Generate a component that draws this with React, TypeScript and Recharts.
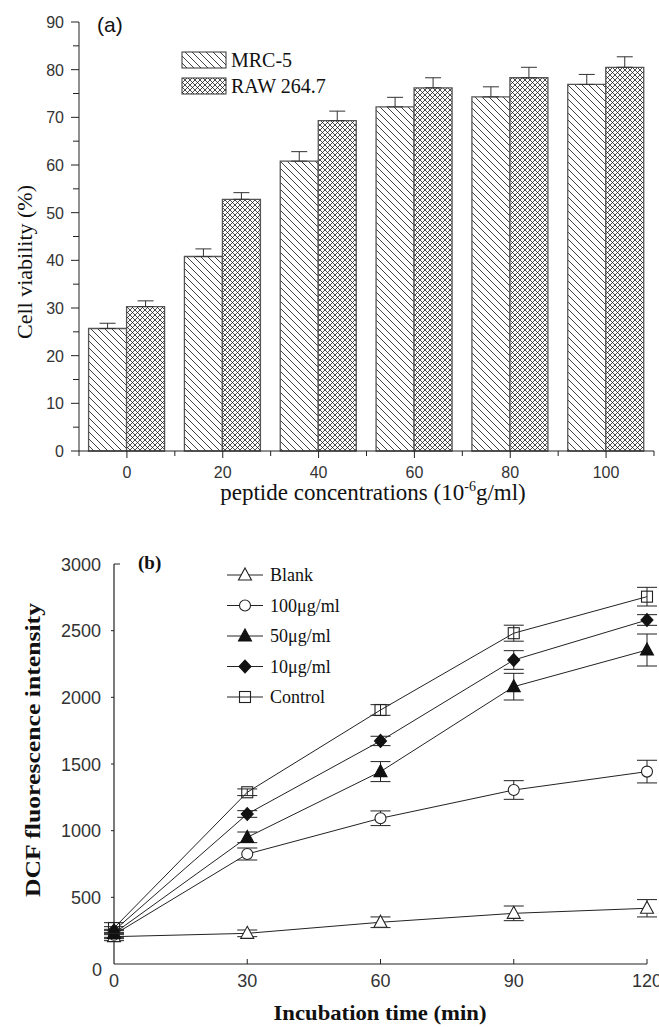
import React from 'react';
import { BarChart, Bar, XAxis, YAxis, ErrorBar, LineChart, Line } from 'recharts';

// ---------- Panel (a) data ----------
const concentrations = ['0', '20', '40', '60', '80', '100'];
const mrc5 = [25.7, 40.8, 60.8, 72.2, 74.3, 76.9];
const mrc5Err = [1.1, 1.6, 2.0, 2.0, 2.1, 2.1];
const raw = [30.3, 52.8, 69.3, 76.2, 78.3, 80.5];
const rawErr = [1.2, 1.4, 2.0, 2.1, 2.2, 2.2];
const yTicksA = [0, 5, 10, 15, 20, 25, 30, 35, 40, 45, 50, 55, 60, 65, 70, 75, 80, 85, 90];

// ---------- Panel (b) data ----------
const times = [0, 30, 60, 90, 120];
const blank = [205, 230, 313, 380, 418];
const blankErr = [30, 25, 40, 55, 65];
const c100 = [220, 825, 1093, 1305, 1443];
const c100Err = [30, 45, 55, 70, 85];
const c50 = [230, 950, 1443, 2080, 2355];
const c50Err = [30, 40, 75, 100, 120];
const c10 = [250, 1125, 1673, 2280, 2580];
const c10Err = [30, 25, 35, 70, 40];
const control = [270, 1288, 1905, 2481, 2755];
const controlErr = [40, 25, 40, 60, 70];
const yTicksB = [0, 500, 1000, 1500, 2000, 2500, 3000];
const xTicksB = [0, 30, 60, 90, 120];

const seriesB = [
  { key: 'blank', name: 'Blank', values: blank, err: blankErr, marker: 'tri-open' },
  { key: 'c100', name: '100\u03bcg/ml', values: c100, err: c100Err, marker: 'circle-open' },
  { key: 'c50', name: '50\u03bcg/ml', values: c50, err: c50Err, marker: 'tri-fill' },
  { key: 'c10', name: '10\u03bcg/ml', values: c10, err: c10Err, marker: 'diamond' },
  { key: 'control', name: 'Control', values: control, err: controlErr, marker: 'square-open' },
];

const barData = concentrations.map((c, i) => ({
  conc: c,
  mrc5: mrc5[i],
  mrc5Err: [0, mrc5Err[i]],
  raw: raw[i],
  rawErr: [0, rawErr[i]],
}));

const lineData = times.map((t, i) => {
  const row: any = { t };
  seriesB.forEach((s) => {
    row[s.key] = s.values[i];
    row[s.key + 'Err'] = s.err[i];
  });
  return row;
});

const SANS = '"Liberation Sans", Arial, sans-serif';
const SERIF = '"Liberation Serif", "Times New Roman", serif';
const INK = '#222';

// ---------- helpers ----------
const A_LEFT = 79;
const A_RIGHT_MARGIN = 5;
const A_BAND = (659 - A_LEFT - A_RIGHT_MARGIN) / concentrations.length;

const XTickA = (props: any) => {
  const { x, y, payload, index } = props;
  const last = index === concentrations.length - 1;
  return (
    <g>
      <line x1={x} y1={y} x2={x} y2={y + 7} stroke={INK} strokeWidth={1} />
      <line x1={x - A_BAND / 2} y1={y} x2={x - A_BAND / 2} y2={y + 5} stroke={INK} strokeWidth={1} />
      {last && <line x1={x + A_BAND / 2} y1={y} x2={x + A_BAND / 2} y2={y + 5} stroke={INK} strokeWidth={1} />}
      <text x={x} y={y + 27} textAnchor="middle" fontFamily={SANS} fontSize={16} fill="#333">
        {payload.value}
      </text>
    </g>
  );
};

const YTickA = (props: any) => {
  const { x, y, payload } = props;
  const major = payload.value % 10 === 0;
  return (
    <g>
      <line x1={x - (major ? 8 : 6)} y1={y} x2={x} y2={y} stroke={INK} strokeWidth={1} />
      {major && (
        <text x={x - 15} y={y + 6} textAnchor="end" fontFamily={SANS} fontSize={16} fill="#333">
          {payload.value}
        </text>
      )}
    </g>
  );
};

const XTickB = (props: any) => {
  const { x, y, payload } = props;
  return (
    <g>
      {payload.value !== 0 && <line x1={x} y1={y} x2={x} y2={y - 5} stroke={INK} strokeWidth={1} />}
      <text x={x} y={y + 23} textAnchor="middle" fontFamily={SANS} fontSize={18} fill="#333">
        {payload.value}
      </text>
    </g>
  );
};

const YTickB = (props: any) => {
  const { x, y, payload } = props;
  const v = payload.value;
  return (
    <g>
      {v === 3000 ? (
        <line x1={x} y1={y} x2={x + 6} y2={y} stroke={INK} strokeWidth={1} />
      ) : v !== 0 ? (
        <line x1={x - 3} y1={y} x2={x} y2={y} stroke={INK} strokeWidth={1} />
      ) : null}
      <text
        x={v === 0 ? x - 12 : x - 13}
        y={v === 0 ? y + 12 : y + 6.5}
        textAnchor="end"
        fontFamily={SANS}
        fontSize={18}
        fill="#333"
      >
        {v}
      </text>
    </g>
  );
};

const Marker = ({ type, cx, cy }: { type: string; cx: number; cy: number }) => {
  const sw = 1.1;
  switch (type) {
    case 'tri-open':
      return (
        <polygon
          points={`${cx},${cy - 7} ${cx + 6.5},${cy + 5} ${cx - 6.5},${cy + 5}`}
          fill="#fff"
          stroke={INK}
          strokeWidth={sw}
        />
      );
    case 'circle-open':
      return <circle cx={cx} cy={cy} r={5.5} fill="#fff" stroke={INK} strokeWidth={sw} />;
    case 'tri-fill':
      return (
        <polygon
          points={`${cx},${cy - 7} ${cx + 6.5},${cy + 5} ${cx - 6.5},${cy + 5}`}
          fill="#111"
          stroke="#111"
          strokeWidth={sw}
        />
      );
    case 'diamond':
      return (
        <polygon
          points={`${cx},${cy - 6.5} ${cx + 6},${cy} ${cx},${cy + 6.5} ${cx - 6},${cy}`}
          fill="#111"
          stroke="#111"
          strokeWidth={sw}
        />
      );
    case 'square-open':
    default:
      return <rect x={cx - 5.5} y={cy - 5.5} width={11} height={11} fill="none" stroke={INK} strokeWidth={sw} />;
  }
};

export default function App() {
  return (
    <div style={{ position: 'absolute', left: 0, top: 0, width: 659, height: 1027, background: '#fff' }}>
      {/* ---------------- Panel (a) ---------------- */}
      <div style={{ position: 'absolute', left: 0, top: 0 }}>
        <BarChart
          width={659}
          height={520}
          data={barData}
          margin={{ top: 22, right: A_RIGHT_MARGIN, bottom: 0, left: 0 }}
          barCategoryGap="10%"
          barGap={0}
        >
          <defs>
            <pattern id="hatchA" patternUnits="userSpaceOnUse" width={7} height={7}>
              <rect width={7} height={7} fill="#fff" />
              <path d="M-1,-1 L8,8 M-1,6 L1,8 M6,-1 L8,1" stroke="#111" strokeWidth={0.8} />
            </pattern>
            <pattern id="hatchB" patternUnits="userSpaceOnUse" width={5} height={5}>
              <rect width={5} height={5} fill="#fff" />
              <path d="M0,0 L5,5 M5,0 L0,5" stroke="#111" strokeWidth={0.75} />
            </pattern>
          </defs>
          <XAxis
            dataKey="conc"
            height={69}
            axisLine={{ stroke: INK, strokeWidth: 1 }}
            tickLine={false}
            tickSize={0}
            tickMargin={0}
            tick={<XTickA />}
            interval={0}
          />
          <YAxis
            width={A_LEFT}
            domain={[0, 90]}
            ticks={yTicksA}
            interval={0}
            axisLine={{ stroke: INK, strokeWidth: 1 }}
            tickLine={false}
            tickSize={0}
            tickMargin={0}
            tick={<YTickA />}
          />
          <Bar dataKey="mrc5" fill="url(#hatchA)" stroke="#555" strokeWidth={1.3} isAnimationActive={false}>
            <ErrorBar dataKey="mrc5Err" width={8} stroke="#333" strokeWidth={1} direction="y" />
          </Bar>
          <Bar dataKey="raw" fill="url(#hatchB)" stroke="#555" strokeWidth={1.3} isAnimationActive={false}>
            <ErrorBar dataKey="rawErr" width={8} stroke="#333" strokeWidth={1} direction="y" />
          </Bar>

          <text x={97} y={32} fontFamily={SANS} fontSize={21} fill="#111">
            (a)
          </text>
          <rect x={182} y={52} width={44} height={16} fill="url(#hatchA)" stroke="#333" strokeWidth={1} />
          <rect x={182} y={78} width={44} height={16} fill="url(#hatchB)" stroke="#333" strokeWidth={1} />
          <text x={231} y={67} fontFamily={SERIF} fontSize={20} fill="#111">
            MRC-5
          </text>
          <text x={231} y={93} fontFamily={SERIF} fontSize={20} fill="#111">
            RAW 264.7
          </text>
          <text
            x={32}
            y={262}
            transform="rotate(-90 32 262)"
            textAnchor="middle"
            fontFamily={SERIF}
            fontSize={22}
            fill="#111"
          >
            Cell viability (%)
          </text>
          <text x={373} y={500} textAnchor="middle" fontFamily={SERIF} fontSize={23} fill="#111">
            peptide concentrations (10
            <tspan fontSize={14} dy={-9}>
              -6
            </tspan>
            <tspan dy={9}>g/ml)</tspan>
          </text>
        </BarChart>
      </div>

      {/* ---------------- Panel (b) ---------------- */}
      <div style={{ position: 'absolute', left: 0, top: 520 }}>
        <LineChart width={659} height={507} data={lineData} margin={{ top: 44, right: 12, bottom: 0, left: 0 }}>
          <XAxis
            dataKey="t"
            type="number"
            domain={[0, 120]}
            ticks={xTicksB}
            interval={0}
            height={63}
            axisLine={{ stroke: INK, strokeWidth: 1.2 }}
            tickLine={false}
            tickSize={0}
            tickMargin={0}
            tick={<XTickB />}
          />
          <YAxis
            width={114}
            domain={[0, 3000]}
            ticks={yTicksB}
            interval={0}
            axisLine={{ stroke: INK, strokeWidth: 1.2 }}
            tickLine={false}
            tickSize={0}
            tickMargin={0}
            tick={<YTickB />}
          />
          {seriesB.map((s) => (
            <Line
              key={s.key}
              dataKey={s.key}
              stroke={INK}
              strokeWidth={1}
              isAnimationActive={false}
              dot={(p: any) => <Marker key={`${s.key}-${p.index}`} type={s.marker} cx={p.cx} cy={p.cy} />}
              activeDot={false}
            >
              <ErrorBar dataKey={s.key + 'Err'} width={10} stroke={INK} strokeWidth={1} direction="y" />
            </Line>
          ))}

          <text x={138} y={49} fontFamily={SERIF} fontWeight="bold" fontSize={19} fill="#111">
            (b)
          </text>
          {seriesB.map((s, i) => {
            const cy = 55 + i * 30.5;
            return (
              <g key={'leg-' + s.key}>
                <line x1={227} y1={cy} x2={263} y2={cy} stroke={INK} strokeWidth={1} />
                <Marker type={s.marker} cx={245} cy={cy} />
                <text x={270} y={cy + 6} fontFamily={SERIF} fontSize={18} fill="#111">
                  {s.name}
                </text>
              </g>
            );
          })}
          <text
            x={40}
            y={230}
            transform="rotate(-90 40 230)"
            textAnchor="middle"
            fontFamily={SERIF}
            fontWeight="bold"
            fontSize={21}
            fill="#111"
            textLength={294}
            lengthAdjust="spacingAndGlyphs"
          >
            DCF fluorescence intensity
          </text>
          <text
            x={380}
            y={500}
            textAnchor="middle"
            fontFamily={SERIF}
            fontWeight="bold"
            fontSize={21}
            fill="#111"
            textLength={213}
            lengthAdjust="spacingAndGlyphs"
          >
            Incubation time (min)
          </text>
        </LineChart>
      </div>
    </div>
  );
}
